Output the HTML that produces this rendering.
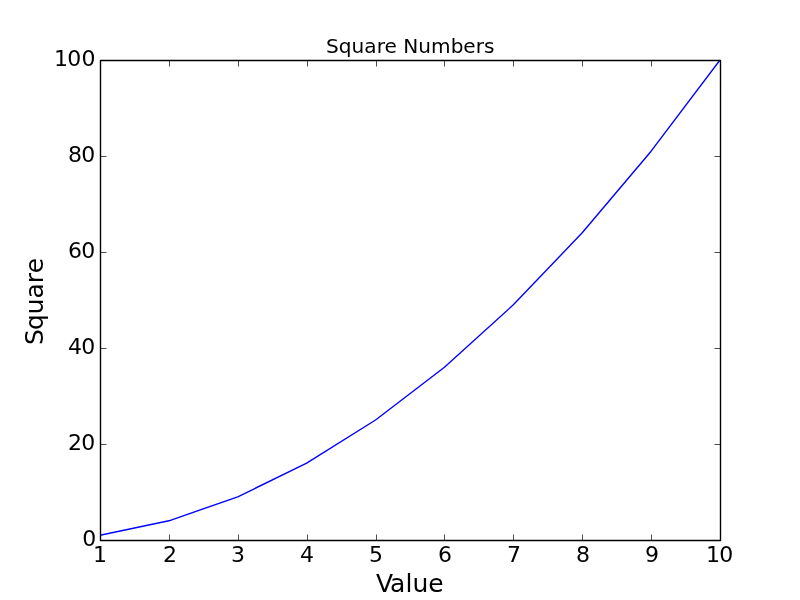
<!DOCTYPE html>
<html lang="en">
<head>
<meta charset="utf-8">
<title>Square Numbers</title>
<style>
html,body{margin:0;padding:0;background:#fff;}
body{width:800px;height:600px;overflow:hidden;}
svg{display:block;}
text{font-family:"DejaVu Sans","Liberation Sans",sans-serif;fill:#000;}
.tk{font-size:22px;}
.ti{font-size:20.1px;}
.lb{font-size:25px;}
</style>
</head>
<body>
<svg width="800" height="600" viewBox="0 0 800 600">
<rect x="0" y="0" width="800" height="600" fill="#ffffff"/>
<clipPath id="ax"><rect x="100" y="60" width="621" height="481"/></clipPath>
<!-- data line -->
<polyline clip-path="url(#ax)" points="100,535.2 168.89,520.8 237.78,496.8 306.67,463.2 375.56,420 444.44,367.2 513.33,304.8 582.22,232.8 651.11,151.2 720,60" fill="none" stroke="#0000ff" stroke-width="1.39" stroke-linejoin="round" stroke-linecap="butt"/>
<!-- tick marks -->
<g stroke="#000" stroke-width="0.7" fill="none">
<line x1="100.5" y1="540.5" x2="100.5" y2="534.5"/><line x1="100.5" y1="60.5" x2="100.5" y2="66.5"/>
<line x1="169.5" y1="540.5" x2="169.5" y2="534.5"/><line x1="169.5" y1="60.5" x2="169.5" y2="66.5"/>
<line x1="238.5" y1="540.5" x2="238.5" y2="534.5"/><line x1="238.5" y1="60.5" x2="238.5" y2="66.5"/>
<line x1="307.5" y1="540.5" x2="307.5" y2="534.5"/><line x1="307.5" y1="60.5" x2="307.5" y2="66.5"/>
<line x1="376.5" y1="540.5" x2="376.5" y2="534.5"/><line x1="376.5" y1="60.5" x2="376.5" y2="66.5"/>
<line x1="444.5" y1="540.5" x2="444.5" y2="534.5"/><line x1="444.5" y1="60.5" x2="444.5" y2="66.5"/>
<line x1="513.5" y1="540.5" x2="513.5" y2="534.5"/><line x1="513.5" y1="60.5" x2="513.5" y2="66.5"/>
<line x1="582.5" y1="540.5" x2="582.5" y2="534.5"/><line x1="582.5" y1="60.5" x2="582.5" y2="66.5"/>
<line x1="651.5" y1="540.5" x2="651.5" y2="534.5"/><line x1="651.5" y1="60.5" x2="651.5" y2="66.5"/>
<line x1="720.5" y1="540.5" x2="720.5" y2="534.5"/><line x1="720.5" y1="60.5" x2="720.5" y2="66.5"/>
<line x1="100.5" y1="540.5" x2="106.5" y2="540.5"/><line x1="720.5" y1="540.5" x2="714.5" y2="540.5"/>
<line x1="100.5" y1="444.5" x2="106.5" y2="444.5"/><line x1="720.5" y1="444.5" x2="714.5" y2="444.5"/>
<line x1="100.5" y1="348.5" x2="106.5" y2="348.5"/><line x1="720.5" y1="348.5" x2="714.5" y2="348.5"/>
<line x1="100.5" y1="252.5" x2="106.5" y2="252.5"/><line x1="720.5" y1="252.5" x2="714.5" y2="252.5"/>
<line x1="100.5" y1="156.5" x2="106.5" y2="156.5"/><line x1="720.5" y1="156.5" x2="714.5" y2="156.5"/>
<line x1="100.5" y1="60.5" x2="106.5" y2="60.5"/><line x1="720.5" y1="60.5" x2="714.5" y2="60.5"/>
</g>
<!-- axes frame -->
<rect x="100.5" y="60.5" width="620.0" height="480.0" fill="none" stroke="#000" stroke-width="1.39" stroke-linejoin="round"/>
<!-- y tick labels -->
<text class="tk" x="82.15" y="546">0</text>
<text class="tk" x="67.9 81.13" y="450">20</text>
<text class="tk" x="67.9 81.13" y="354">40</text>
<text class="tk" x="67.9 81.13" y="258">60</text>
<text class="tk" x="67.9 81.13" y="162">80</text>
<text class="tk" x="53.9 67.13 81.38" y="66">100</text>
<!-- x tick labels -->
<text class="tk" x="93" y="562">1</text>
<text class="tk" x="162.89" y="562">2</text>
<text class="tk" x="231.03" y="562">3</text>
<text class="tk" x="299.92" y="562">4</text>
<text class="tk" x="369.06" y="562">5</text>
<text class="tk" x="437.94" y="562">6</text>
<text class="tk" x="507.08" y="562">7</text>
<text class="tk" x="575.97" y="562">8</text>
<text class="tk" x="645.11" y="562">9</text>
<text class="tk" x="706.12 719.35" y="562">10</text>
<!-- title and axis labels -->
<text class="ti" x="325.91 338.66 351.41 364.14 376.7 384.53 396.89 403.28 418.31 431.05 450.86 463.37 475.73 484" y="53">Square Numbers</text>
<text class="lb" x="375.92 390.08 405.39 412.59 428.19" y="592">Value</text>
<text class="lb" transform="translate(43 301.75) rotate(-90)" x="-43.26 -28.15 -12.52 3.32 18.63 28.62" y="0">Square</text>
</svg>
</body>
</html>
